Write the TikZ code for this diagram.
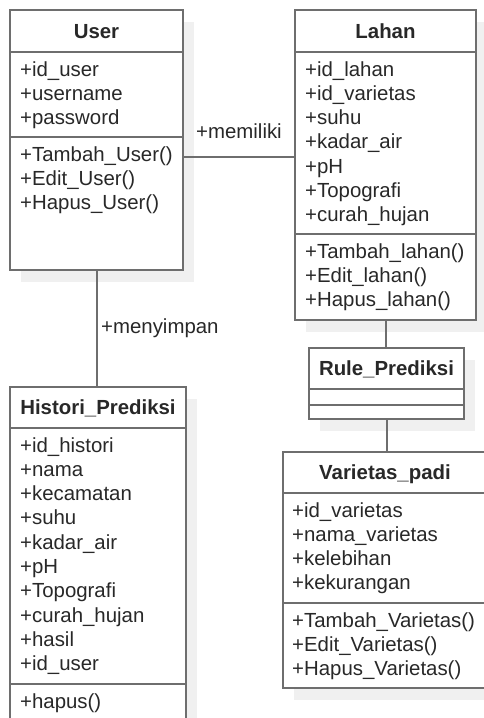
\documentclass[tikz,border=0pt]{standalone}
\usepackage{fontspec}
\setmainfont{Liberation Sans}
\usetikzlibrary{shadows}
\definecolor{linec}{RGB}{110,110,110}
\definecolor{shadowc}{RGB}{240,240,240}
\definecolor{textc}{RGB}{40,40,40}
\tikzset{
  umlbox/.style={draw=linec, line width=2.4pt, fill=white, anchor=north west,
    inner sep=0pt, outer sep=0pt,
    drop shadow={shadow xshift=11pt, shadow yshift=-12pt, opacity=1, fill=shadowc}},
  divider/.style={draw=linec, line width=2.4pt},
  conn/.style={draw=linec, line width=2pt},
  attr/.style={anchor=base west, inner sep=0pt, text=textc, font=\fontsize{20.4pt}{24pt}\selectfont},
  title/.style={anchor=base, inner sep=0pt, text=textc, font=\fontsize{20.4pt}{24pt}\selectfont\bfseries},
  lbl/.style={anchor=base west, inner sep=0pt, text=textc, font=\fontsize{20.4pt}{24pt}\selectfont}
}
\begin{document}
\begin{tikzpicture}[x=1pt, y=-1pt]
\useasboundingbox (0,0) rectangle (484,718);
\clip (0,0) rectangle (484,718);

% boxes
\node[umlbox, minimum width=173pt, minimum height=260pt] (user) at (10,10) {};
\node[umlbox, minimum width=181pt, minimum height=310pt] (lahan) at (295,10) {};
\node[umlbox, minimum width=155pt, minimum height=71pt] (rule) at (309,348) {};
\node[umlbox, minimum width=260pt, minimum height=236pt] (var) at (283,452) {};
\node[umlbox, minimum width=176pt, minimum height=360pt] (hist) at (10,387) {};

% dividers
\draw[divider] (user.west |- 0,52) -- (user.east |- 0,52);
\draw[divider] (user.west |- 0,137) -- (user.east |- 0,137);
\draw[divider] (lahan.west |- 0,52) -- (lahan.east |- 0,52);
\draw[divider] (lahan.west |- 0,234) -- (lahan.east |- 0,234);
\draw[divider] (rule.west |- 0,389) -- (rule.east |- 0,389);
\draw[divider] (rule.west |- 0,405) -- (rule.east |- 0,405);
\draw[divider] (var.west |- 0,493) -- (var.east |- 0,493);
\draw[divider] (var.west |- 0,603) -- (var.east |- 0,603);
\draw[divider] (hist.west |- 0,428) -- (hist.east |- 0,428);
\draw[divider] (hist.west |- 0,684) -- (hist.east |- 0,684);

% titles
\node[title] (userT) at (96.5,38) {User};
\node[title] (lahanT) at (385.5,38) {Lahan};
\node[title] (ruleT) at (386.5,375.5) {Rule\_Prediksi};
\node[title] (varT) at (385,479.5) {Varietas\_padi};
\node[title] (histT) at (98,414.5) {Histori\_Prediksi};

% User
\foreach \t [count=\i] in {+id\_user,+username,+password}
  \node[attr] (ua\i) at (20,{76+(\i-1)*24.3}) {\t};
\foreach \t [count=\i] in {+Tambah\_User(),+Edit\_User(),+Hapus\_User()}
  \node[attr] (um\i) at (20,{161+(\i-1)*24.3}) {\t};

% Lahan
\foreach \t [count=\i] in {+id\_lahan,+id\_varietas,+suhu,+kadar\_air,+pH,+Topografi,+curah\_hujan}
  \node[attr] (la\i) at (305,{76+(\i-1)*24.3}) {\t};
\foreach \t [count=\i] in {+Tambah\_lahan(),+Edit\_lahan(),+Hapus\_lahan()}
  \node[attr] (lm\i) at (305,{258+(\i-1)*24.3}) {\t};

% Varietas
\foreach \t [count=\i] in {+id\_varietas,+nama\_varietas,+kelebihan,+kekurangan}
  \node[attr] (va\i) at (292,{517+(\i-1)*24.3}) {\t};
\foreach \t [count=\i] in {+Tambah\_Varietas(),+Edit\_Varietas(),+Hapus\_Varietas()}
  \node[attr] (vm\i) at (292,{627+(\i-1)*24.3}) {\t};

% Histori
\foreach \t [count=\i] in {+id\_histori,+nama,+kecamatan,+suhu,+kadar\_air,+pH,+Topografi,+curah\_hujan,+hasil,+id\_user}
  \node[attr] (ha\i) at (20,{452+(\i-1)*24.3}) {\t};
\node[attr] (hm1) at (20,708) {+hapus()};

% connectors
\draw[conn] (user.east |- 0,157) -- (lahan.west |- 0,157);
\draw[conn] (user.south -| 97,0) -- (hist.north -| 97,0);
\draw[conn] (lahan.south -| 386,0) -- (rule.north -| 386,0);
\draw[conn] (rule.south -| 387,0) -- (var.north -| 387,0);

% connector labels
\node[lbl] (memiliki) at (196,138) {+memiliki};
\node[lbl] (menyimpan) at (101,333) {+menyimpan};
\end{tikzpicture}
\end{document}
